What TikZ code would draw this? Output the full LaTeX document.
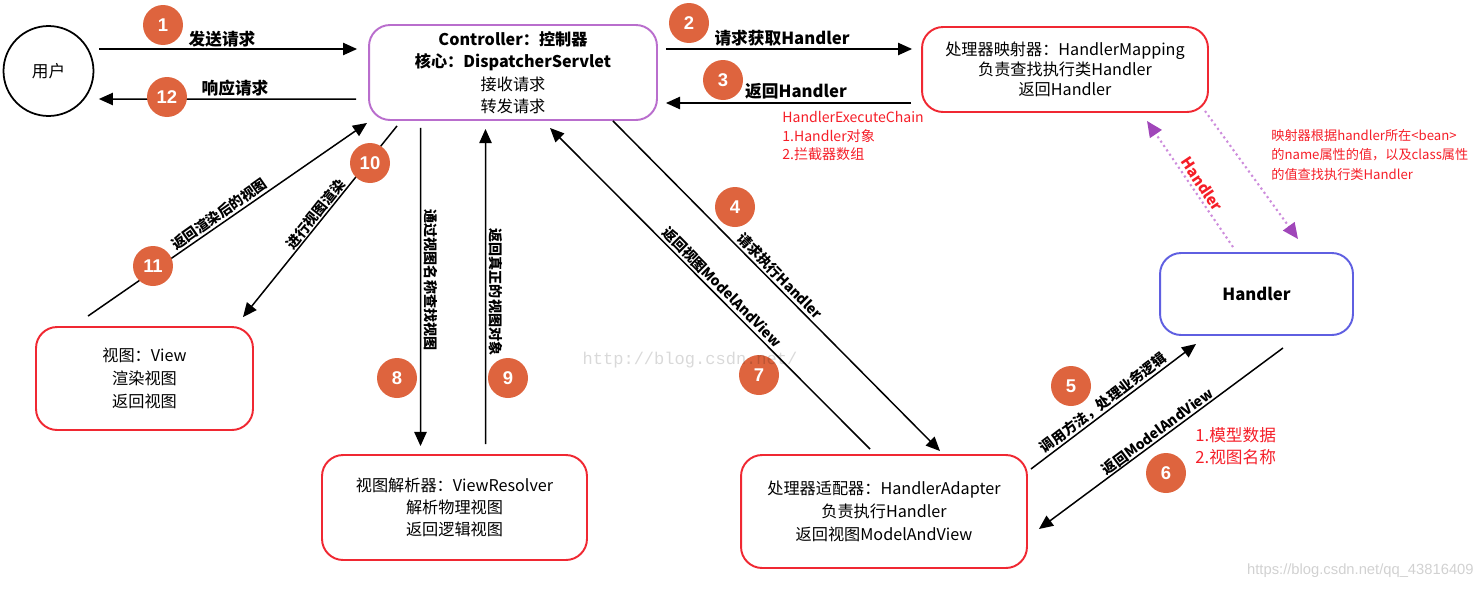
\documentclass[tikz,border=0pt]{standalone}
\usepackage{fontspec}
\setmainfont{Noto Sans CJK SC}
\newfontfamily\wmserif{Liberation Mono}
\newfontfamily\wmsans{Liberation Sans}
\usetikzlibrary{arrows.meta,calc}
\definecolor{numor}{RGB}{222,100,62}
\definecolor{boxred}{RGB}{240,40,50}
\definecolor{boxpurple}{RGB}{185,110,205}
\definecolor{boxblue}{RGB}{95,95,225}
\definecolor{txtred}{RGB}{245,30,40}
\definecolor{dotpurple}{RGB}{205,140,220}
\definecolor{headpurple}{RGB}{160,70,185}
\begin{document}
\begin{tikzpicture}[x=0.02cm,y=-0.02cm,
  box/.style={draw=boxred, line width=1.1pt, rounded corners=12pt, align=center, inner sep=0pt, fill=white},
  boxtxt/.style={font=\fontsize{9.2}{12.8}\selectfont},
  arr/.style={line width=0.85pt, -{Triangle[length=8pt,width=7pt]}},
  dotarr/.style={draw=dotpurple, line width=1.2pt, dash pattern=on 1.2pt off 1.8pt, -{Triangle[length=9pt,width=8pt,color=headpurple]}},
  num/.style={circle, fill=numor, text=white, minimum size=0.8cm, inner sep=0pt, font=\wmsans\bfseries\fontsize{10.5}{12}\selectfont},
  hlab/.style={font=\bfseries\fontsize{9.5}{11}\selectfont},
  slab/.style={font=\bfseries\fontsize{8}{9}\selectfont, inner sep=0pt},
  redtxt/.style={text=txtred, align=left, inner sep=0pt}
]
\useasboundingbox (0,0) rectangle (1483,589);

% boxes
\node[circle, draw=black, line width=1pt, minimum size=1.8cm, inner sep=0pt, font=\fontsize{9.5}{11}\selectfont] (user) at (48.5,71) {用户};
\node[box, draw=boxpurple, boxtxt, minimum width=5.76cm, minimum height=1.9cm] (ctrl) at (513,72.5)
  {\textbf{Controller：控制器}\\ \textbf{核心：DispatcherServlet}\\ 接收请求\\ 转发请求};
\node[box, font=\fontsize{9.2}{11.4}\selectfont, minimum width=5.72cm, minimum height=1.7cm] (map) at (1065,69.5)
  {处理器映射器：HandlerMapping\\ 负责查找执行类Handler\\ 返回Handler};
\node[box, draw=boxblue, font=\bfseries\fontsize{9.5}{11}\selectfont, minimum width=3.86cm, minimum height=1.64cm] (hdl) at (1256.5,294) {Handler};
\node[box, font=\fontsize{9.2}{12.9}\selectfont, minimum width=4.34cm, minimum height=2.06cm] (view) at (144.5,378.5)
  {视图：View\\ 渲染视图\\ 返回视图};
\node[box, font=\fontsize{9.2}{12.7}\selectfont, minimum width=5.3cm, minimum height=2.1cm] (vr) at (454.5,507.5)
  {视图解析器：ViewResolver\\ 解析物理视图\\ 返回逻辑视图};
\node[box, font=\fontsize{9.2}{13}\selectfont, minimum width=5.72cm, minimum height=2.26cm] (ha) at (884,511.5)
  {处理器适配器：HandlerAdapter\\ 负责执行Handler\\ 返回视图ModelAndView};

% connectors
\draw[arr] ($(user.east)+(5,-22)$) -- ($(ctrl.west)+(-11,-23.5)$);
\draw[arr] ($(ctrl.west)+(-12,26.5)$) -- ($(user.east)+(4.5,28)$);
\draw[arr] ($(ctrl.east)+(8,-23.5)$) -- ($(map.west)+(-9,-20.5)$);
\draw[arr] ($(map.west)+(-10,33.5)$) -- ($(ctrl.east)+(8,30.5)$);
\draw[arr] ($(ctrl.south)+(100,0)$) -- ($(ha.north)+(56,-3)$);
\draw[arr] ($(ha.north)+(-14,-5)$) -- ($(ctrl.south)+(37,7)$);
\draw[arr] ($(ctrl.south)+(-92.5,7)$) -- ($(vr.north)+(-34,-8)$);
\draw[arr] ($(vr.north)+(31,-10)$) -- ($(ctrl.south)+(-27.5,8)$);
\draw[arr] ($(ctrl.south)+(-116,5)$) -- ($(view.north)+(98.5,-9)$);
\draw[arr] ($(view.north)+(-56.5,-10)$) -- ($(ctrl.south)+(-146,2)$);
\draw[arr] ($(ha.east)+(3,-42.5)$) -- ($(hdl.south)+(-60.5,8)$);
\draw[arr] ($(hdl.south)+(26.5,12)$) -- ($(ha.east)+(11,17.5)$);
\draw[dotarr] ($(hdl.north)+(-23.5,-5)$) -- ($(map.south)+(82,8)$);
\draw[dotarr] ($(map.south)+(140,-2)$) -- ($(hdl.north)+(41.5,-13)$);

% connector labels
\node[hlab] (l1) at (222,39) {发送请求};
\node[hlab] (l12) at (235,88) {响应请求};
\node[hlab] (l2) at (782,38) {请求获取Handler};
\node[hlab] (l3) at (796,91) {返回Handler};
\node[slab, rotate=-45.3] (l4) at (780,276) {请求执行Handler};
\node[slab, rotate=-45.3] (l7) at (722,287) {返回视图ModelAndView};
\node[slab, rotate=-90] (l8) at (431,280) {通过视图名称查找视图};
\node[slab, rotate=-90] (l9) at (496,292) {返回真正的视图对象};
\node[slab, rotate=51.4] (l10) at (315.5,214) {进行视图渲染};
\node[slab, rotate=35.2] (l11) at (219,214) {返回渲染后的视图};
\node[slab, rotate=37.2] (l5) at (1103.5,403) {调用方法，处理业务逻辑};
\node[slab, rotate=36.6] (l6) at (1157.5,431.5) {返回ModelAndView};
\node[slab, text=txtred, font=\bfseries\fontsize{8.5}{10}\selectfont, rotate=-56.3] (lh) at (1202,184) {Handler};

% red notes
\node[redtxt, anchor=west, font=\fontsize{8}{10.8}\selectfont] (n1) at (782,136)
  {HandlerExecuteChain\\ 1.Handler对象\\ 2.拦截器数组};
\node[redtxt, anchor=west, font=\fontsize{7.5}{11.3}\selectfont] (n2) at (1271,155)
  {映射器根据handler所在<bean>\\ 的name属性的值，以及class属性\\ 的值查找执行类Handler};
\node[redtxt, anchor=west, font=\fontsize{9.5}{12.5}\selectfont] (n3) at (1195,446)
  {1.模型数据\\ 2.视图名称};

% step numbers
\node[num] (c1) at (163,25) {1};
\node[num] (c2) at (689,23) {2};
\node[num] (c3) at (723,80) {3};
\node[num] (c4) at (735,207) {4};
\node[num] (c5) at (1071,386) {5};
\node[num] (c6) at (1166,473) {6};
\node[num] (c7) at (759,375) {7};
\node[num] (c8) at (397,378) {8};
\node[num] (c9) at (508,378) {9};
\node[num] (c10) at (370,163) {10};
\node[num] (c11) at (153,266) {11};
\node[num] (c12) at (167,97) {12};

% watermarks
\node[text=black, opacity=0.15, font=\wmserif\fontsize{9.7}{11}\selectfont, inner sep=0pt] (wm1) at (690,360) {http://blog.csdn.net/};
\node[text=black, opacity=0.18, anchor=east, font=\wmsans\fontsize{8.4}{10}\selectfont, inner sep=0pt] (wm2) at (1474,571) {https://blog.csdn.net/qq\_43816409};
\end{tikzpicture}
\end{document}
